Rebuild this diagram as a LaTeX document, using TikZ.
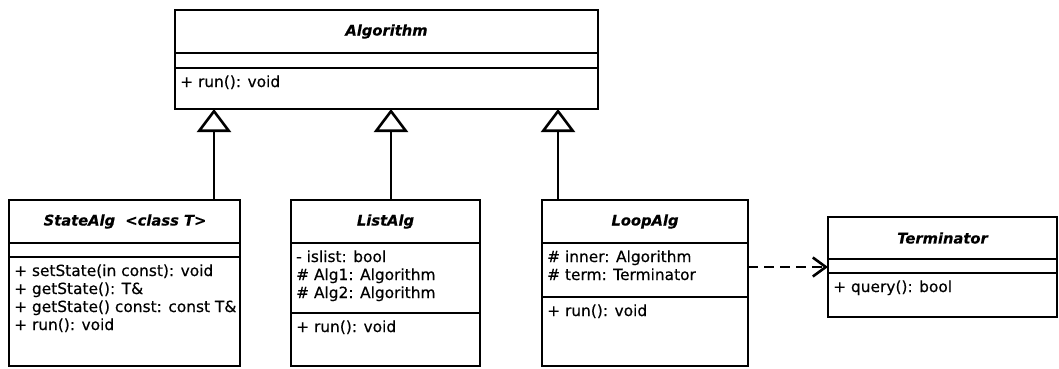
\documentclass[tikz,border=0pt]{standalone}
\usepackage{fontspec}
\setmainfont{DejaVu Sans}
\newfontface\memface{DejaVu Sans}[FakeBold=0.4]
\newfontface\ttlface{DejaVu Sans Bold Oblique}[FakeBold=0.3]
\usetikzlibrary{arrows.meta}
\begin{document}
\begin{tikzpicture}[x=1pt,y=-1pt,
  cls/.style={draw,line width=2.8pt,rectangle,inner sep=0pt,outer sep=0pt,anchor=north west},
  div/.style={line width=2.6pt},
  ttl/.style={inner sep=0pt,font=\ttlface\fontsize{14.7}{17}\selectfont},
  mem/.style={anchor=base west,inner sep=0pt,font=\memface\fontsize{15.4}{18}\selectfont},
  inh/.style={line width=2.6pt,-{Triangle[open,length=23pt,width=34pt,line width=2.6pt]}},
  dep/.style={line width=2.6pt,dash pattern=on 10pt off 6pt,-{Straight Barb[length=13pt,width=19pt,line width=2.6pt]}}]
\useasboundingbox (0,0) rectangle (1059,368);

% Algorithm
\node[cls,minimum width=423pt,minimum height=99pt] (alg) at (175,10) {};
\draw[div] (175,53) -- (598,53);
\draw[div] (175,68) -- (598,68);
\node[ttl] (algT) at (386.5,31.5) {Algorithm};
\node[mem] (algM1) at (180,87) {+ run(): void};

% StateAlg
\node[cls,minimum width=231pt,minimum height=166pt] (state) at (9,200) {};
\draw[div] (9,243) -- (240,243);
\draw[div] (9,257) -- (240,257);
\node[ttl] (stateT) at (125,221.5) {StateAlg\ \ <class T>};
\node[mem] (stateM1) at (14,276) {+ setState(in const): void};
\node[mem] (stateM2) at (14,294) {+ getState(): T\&};
\node[mem] (stateM3) at (14,312) {+ getState() const: const T\&};
\node[mem] (stateM4) at (14,330) {+ run(): void};

% ListAlg
\node[cls,minimum width=189pt,minimum height=166pt] (list) at (291,200) {};
\draw[div] (291,243) -- (480,243);
\draw[div] (291,313) -- (480,313);
\node[ttl] (listT) at (385.5,221.5) {ListAlg};
\node[mem] (listA1) at (296,262) {- islist: bool};
\node[mem] (listA2) at (296,280) {\# Alg1: Algorithm};
\node[mem] (listA3) at (296,298) {\# Alg2: Algorithm};
\node[mem] (listM1) at (296,332) {+ run(): void};

% LoopAlg
\node[cls,minimum width=206pt,minimum height=166pt] (loop) at (542,200) {};
\draw[div] (542,243) -- (748,243);
\draw[div] (542,297) -- (748,297);
\node[ttl] (loopT) at (645,221.5) {LoopAlg};
\node[mem] (loopA1) at (547,262) {\# inner: Algorithm};
\node[mem] (loopA2) at (547,280) {\# term: Terminator};
\node[mem] (loopM1) at (547,316) {+ run(): void};

% Terminator
\node[cls,minimum width=229pt,minimum height=100pt] (term) at (828,217) {};
\draw[div] (828,259) -- (1057,259);
\draw[div] (828,273) -- (1057,273);
\node[ttl] (termT) at (942.5,238) {Terminator};
\node[mem] (termM1) at (833,292) {+ query(): bool};

% connectors
\coordinate (sA) at (214,200);
\coordinate (lA) at (391,200);
\coordinate (pA) at (558,200);
\draw[inh] (sA) -- (sA |- alg.south);
\draw[inh] (lA) -- (lA |- alg.south);
\draw[inh] (pA) -- (pA |- alg.south);
\draw[dep] (term.west -| loop.east) -- (term.west);
\end{tikzpicture}
\end{document}
